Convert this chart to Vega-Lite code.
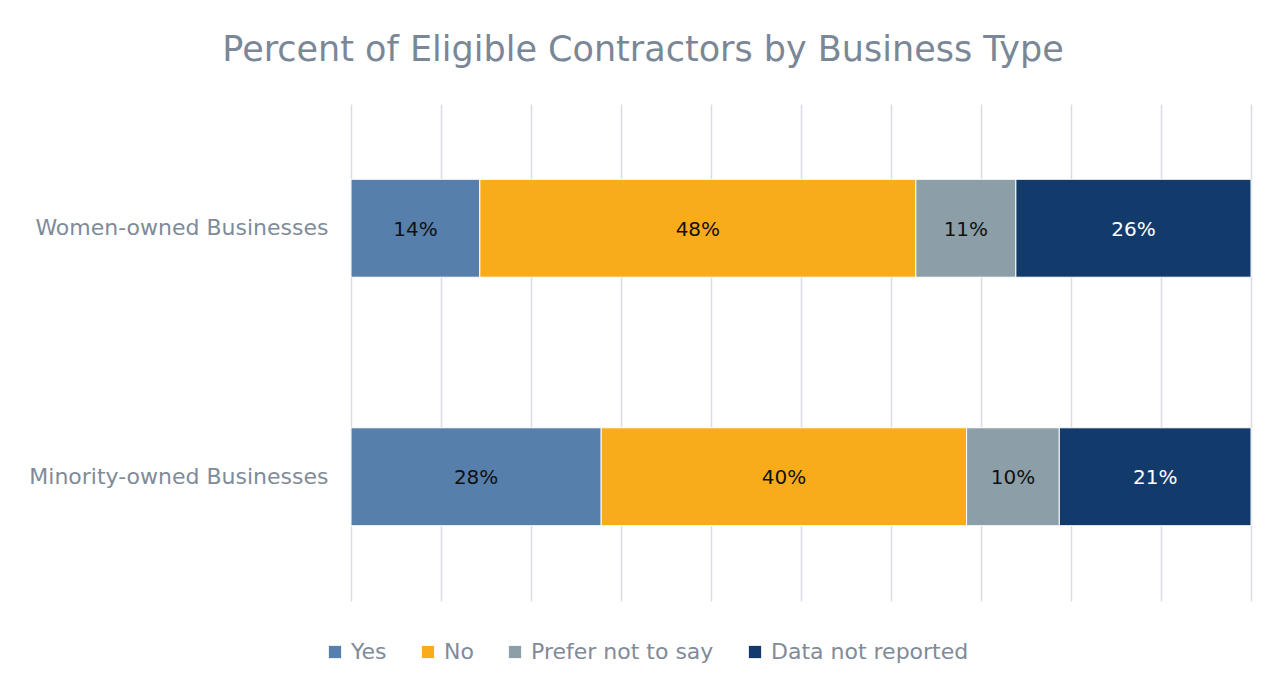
{
  "$schema": "https://vega.github.io/schema/vega-lite/v6.json",
  "autosize": {"type": "none"},
  "padding": {"left": 351, "top": 104, "right": 30, "bottom": 87},
  "width": 900,
  "height": 497,
  "background": "white",
  "config": {"view": {"stroke": null}},
  "title": {
    "text": "Percent of Eligible Contractors by Business Type",
    "anchor": "middle",
    "dx": -158,
    "offset": 36,
    "font": "DejaVu Sans",
    "fontSize": 35,
    "fontWeight": "normal",
    "color": "#7A8797"
  },
  "data": {
    "values": [
      {"type": "Women-owned Businesses", "status": "Yes", "order": 1, "value": 14.3, "label": "14%"},
      {"type": "Women-owned Businesses", "status": "No", "order": 2, "value": 48.4, "label": "48%"},
      {"type": "Women-owned Businesses", "status": "Prefer not to say", "order": 3, "value": 11.1, "label": "11%"},
      {"type": "Women-owned Businesses", "status": "Data not reported", "order": 4, "value": 26.1, "label": "26%"},
      {"type": "Minority-owned Businesses", "status": "Yes", "order": 1, "value": 27.8, "label": "28%"},
      {"type": "Minority-owned Businesses", "status": "No", "order": 2, "value": 40.6, "label": "40%"},
      {"type": "Minority-owned Businesses", "status": "Prefer not to say", "order": 3, "value": 10.3, "label": "10%"},
      {"type": "Minority-owned Businesses", "status": "Data not reported", "order": 4, "value": 21.3, "label": "21%"}
    ]
  },
  "transform": [
    {"stack": "value", "groupby": ["type"], "sort": [{"field": "order", "order": "ascending"}], "offset": "normalize", "as": ["x0", "x1"]}
  ],
  "encoding": {
    "y": {
      "field": "type",
      "type": "nominal",
      "sort": ["Women-owned Businesses", "Minority-owned Businesses"],
      "scale": {"paddingInner": 0.606, "paddingOuter": 0.303},
      "axis": {
        "title": null,
        "domain": false,
        "ticks": false,
        "labelPadding": 23,
        "labelLimit": 0,
        "labelFont": "DejaVu Sans",
        "labelFontSize": 22,
        "labelColor": "#7F8B99"
      }
    }
  },
  "layer": [
    {
      "mark": {"type": "bar", "stroke": "white", "strokeWidth": 1},
      "encoding": {
        "x": {
          "field": "x0",
          "type": "quantitative",
          "scale": {"domain": [0, 1], "nice": false},
          "axis": {
            "title": null,
            "values": [0, 0.1, 0.2, 0.3, 0.4, 0.5, 0.6, 0.7, 0.8, 0.9, 1],
            "labels": false,
            "ticks": false,
            "domain": false,
            "grid": true,
            "gridColor": "#D9DCE1",
            "gridWidth": 1.5
          }
        },
        "x2": {"field": "x1"},
        "color": {
          "field": "status",
          "type": "nominal",
          "scale": {
            "domain": ["Yes", "No", "Prefer not to say", "Data not reported"],
            "range": ["#567FAC", "#F9AC1A", "#8C9FA8", "#123B6B"]
          },
          "legend": {
            "title": null,
            "orient": "none",
            "direction": "horizontal",
            "legendX": -27,
            "legendY": 537,
            "symbolType": "square",
            "symbolSize": 150,
            "symbolStrokeWidth": 0,
            "labelFont": "DejaVu Sans",
            "labelFontSize": 22,
            "labelColor": "#7F8B99",
            "labelOffset": 5,
            "labelLimit": 0,
            "columnPadding": 30
          }
        }
      }
    },
    {
      "transform": [
        {"fold": ["x0", "x1"], "as": ["k", "pos"]},
        {"aggregate": [{"op": "mean", "field": "pos", "as": "mid"}], "groupby": ["type", "status", "label"]}
      ],
      "mark": {"type": "text", "font": "DejaVu Sans", "fontSize": 20, "baseline": "middle", "align": "center", "dy": 1.5},
      "encoding": {
        "x": {"field": "mid", "type": "quantitative"},
        "text": {"field": "label"},
        "color": {
          "condition": {"test": "datum.status === 'Data not reported'", "value": "white"},
          "value": "#111111"
        }
      }
    }
  ]
}
